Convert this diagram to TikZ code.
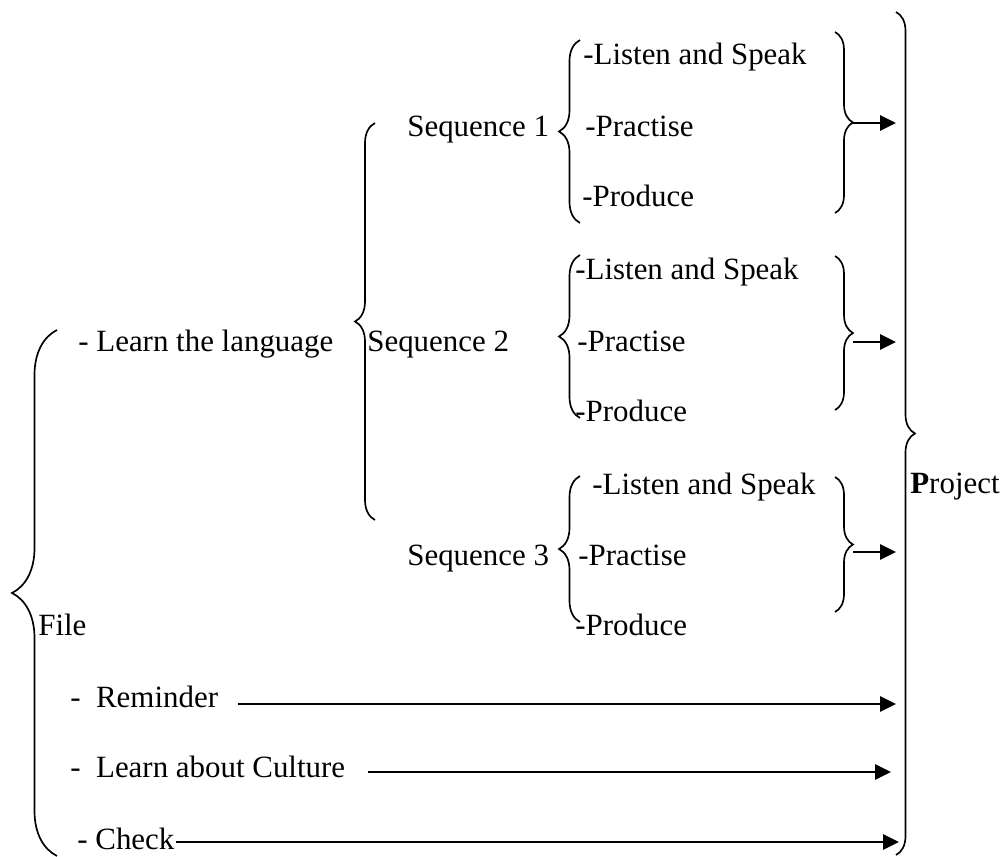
\documentclass[tikz,border=0pt]{standalone}
\usepackage{fontspec}
\setmainfont{Liberation Serif}
\usetikzlibrary{arrows.meta,decorations.pathreplacing}

\begin{document}
\begin{tikzpicture}[x=0.02cm, y=-0.02cm,
    txt/.style={anchor=base west, inner sep=0pt, font=\fontsize{17.6}{21}\selectfont},
    brc/.style={decorate, decoration={brace, amplitude=#1}, line width=0.95pt},
    arr/.style={-{Triangle[length=9pt, width=8.5pt]}, line width=1.4pt}]
    \useasboundingbox (0,0) rectangle (1008,857);

    % File
    \draw[brc=0.9cm] (57,856) -- (57,330);
    \node[txt] (file) at (38,636) {File};
    \node[txt] (learn) at (78,352) {- Learn the language};
    \node[txt] (rem) at (70,708) {-\ \ Reminder};
    \node[txt] (cult) at (70,778) {-\ \ Learn about Culture};
    \node[txt] (check) at (77,850) {- Check};

    % Sequences
    \draw[brc=0.4cm] (375,520) -- (375,123);
    \node[txt] (seqA) at (407,137) {Sequence 1};
    \node[txt] (seqB) at (367,352) {Sequence 2};
    \node[txt] (seqC) at (407,566) {Sequence 3};

    % Sequence 1
    \draw[brc=0.42cm] (580,223) -- (580,40);
    \node[txt] (listenA) at (583,65) {-Listen and Speak};
    \node[txt] (practA) at (585,137) {-Practise};
    \node[txt] (prodA) at (582,207) {-Produce};
    \draw[brc=0.36cm] (835,32) -- (835,213);
    \coordinate (tipA) at (853,123);

    % Sequence 2
    \draw[brc=0.42cm] (580,418) -- (580,255);
    \node[txt] (listenB) at (575,280) {-Listen and Speak};
    \node[txt] (practB) at (577,352) {-Practise};
    \node[txt] (prodB) at (575,422) {-Produce};
    \draw[brc=0.36cm] (835,256) -- (835,410);
    \coordinate (tipB) at (853,342);

    % Sequence 3
    \draw[brc=0.42cm] (580,622) -- (580,476);
    \node[txt] (listenC) at (592,495) {-Listen and Speak};
    \node[txt] (practC) at (578,566) {-Practise};
    \node[txt] (prodC) at (575,636) {-Produce};
    \draw[brc=0.36cm] (835,477) -- (835,612);
    \coordinate (tipC) at (853,552);

    % Project
    \draw[brc=0.38cm] (896,12) -- (896,855);
    \node[txt] (proj) at (910,494) {\textbf{P}roject};
    \coordinate (endA) at (896,123);
    \coordinate (endB) at (896,342);
    \coordinate (endC) at (896,552);
    \coordinate (endR) at (896,704);
    \coordinate (endL) at (891,772);
    \coordinate (endK) at (899,842);

    % Arrows
    \draw[arr] (tipA) -- (endA);
    \draw[arr] (tipB) -- (endB);
    \draw[arr] (tipC) -- (endC);
    \draw[arr] (endR -| rem.east) ++(20,0) -- (endR);
    \draw[arr] (endL -| cult.east) ++(23,0) -- (endL);
    \draw[arr] (endK -| check.east) ++(1,0) -- (endK);
\end{tikzpicture}
\end{document}
